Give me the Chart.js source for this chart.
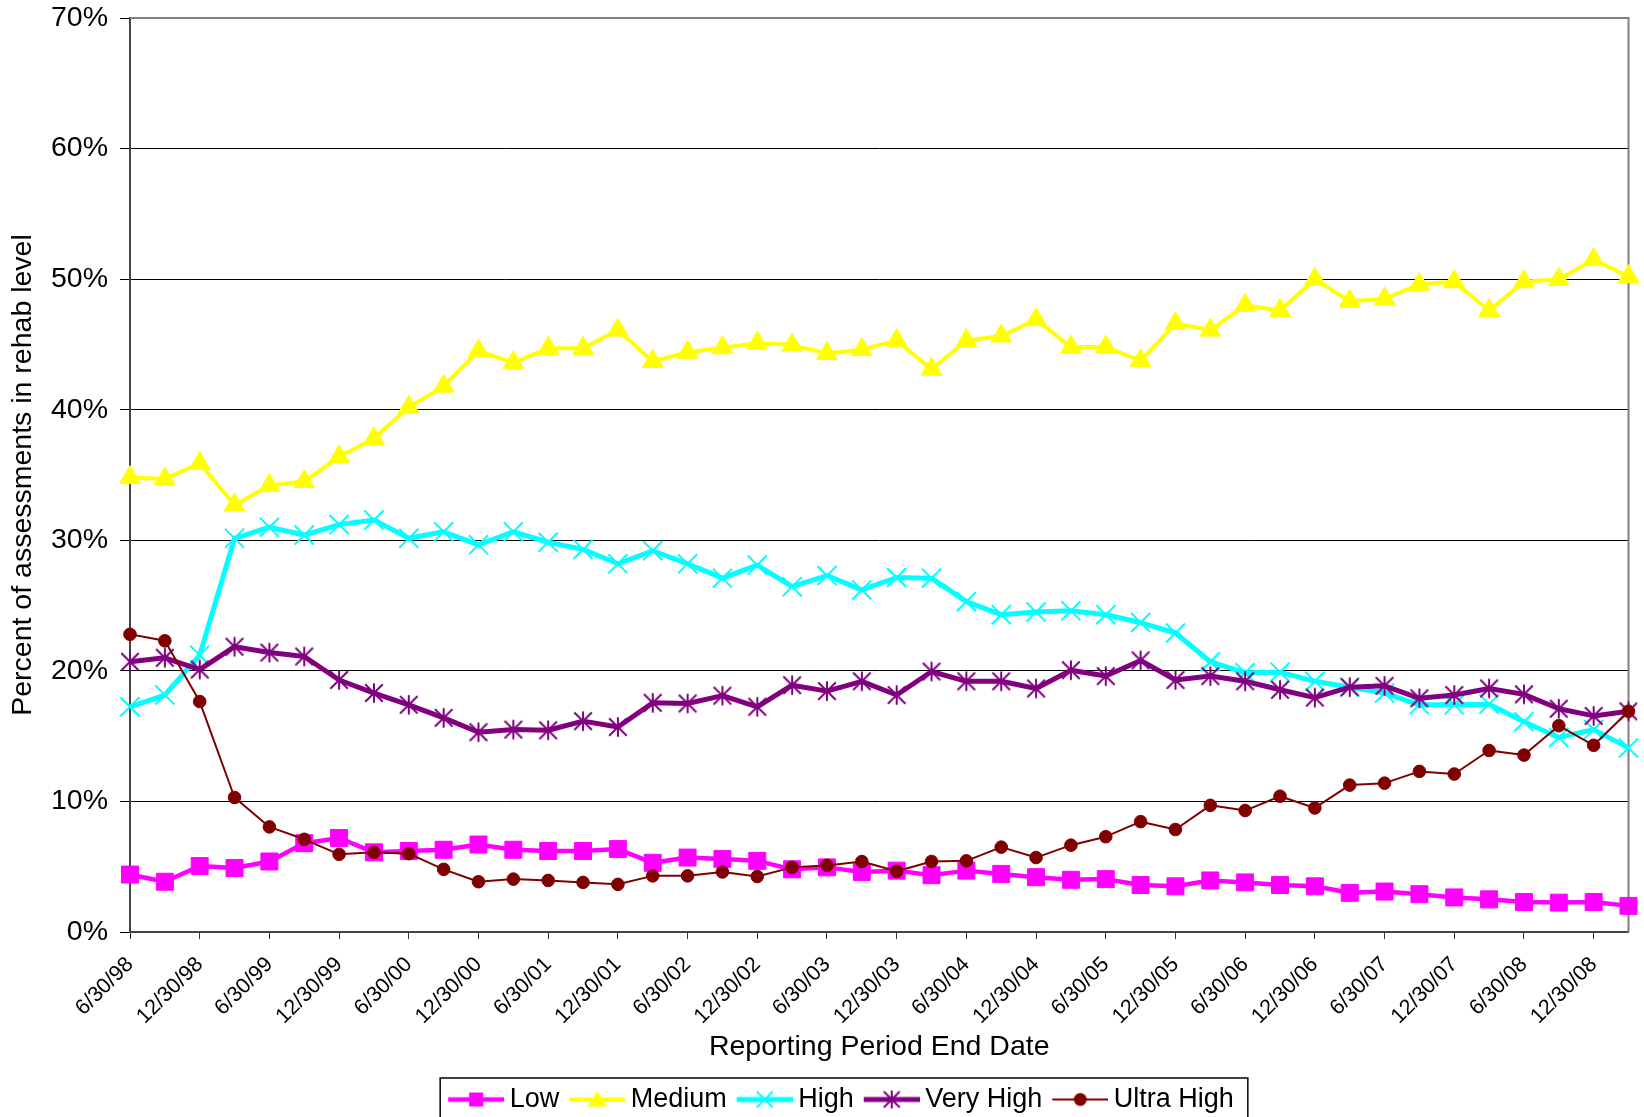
<!DOCTYPE html>
<html>
<head>
<meta charset="utf-8">
<script src="https://cdn.jsdelivr.net/npm/chart.js@4.4.1/dist/chart.umd.min.js"></script>
<style>
html,body{margin:0;padding:0;background:#fff;}
canvas{display:block;}
</style>
</head>
<body>
<canvas id="c" width="1644" height="1117"></canvas>
<script>
// ---- Data (percent of assessments per quarter) ----
const categories = ['6/30/98','9/30/98','12/30/98','3/31/99','6/30/99','9/30/99','12/30/99','3/31/00','6/30/00','9/30/00','12/30/00','3/31/01','6/30/01','9/30/01','12/30/01','3/31/02','6/30/02','9/30/02','12/30/02','3/31/03','6/30/03','9/30/03','12/30/03','3/31/04','6/30/04','9/30/04','12/30/04','3/31/05','6/30/05','9/30/05','12/30/05','3/31/06','6/30/06','9/30/06','12/30/06','3/31/07','6/30/07','9/30/07','12/30/07','3/31/08','6/30/08','9/30/08','12/30/08','3/31/09'];

const seriesNames = ['Low','Medium','High','Very High','Ultra High'];

const low = [4.4,3.85,5.05,4.9,5.4,6.8,7.2,6.1,6.2,6.3,6.7,6.3,6.2,6.2,6.35,5.3,5.7,5.6,5.45,4.8,4.95,4.6,4.7,4.35,4.7,4.45,4.2,4.0,4.05,3.6,3.5,3.95,3.8,3.6,3.5,3.0,3.1,2.9,2.65,2.5,2.3,2.25,2.3,2.0];
const medium = [34.8,34.7,35.9,32.7,34.2,34.5,36.4,37.8,40.2,41.8,44.5,43.6,44.7,44.7,46.1,43.7,44.4,44.75,45.1,44.95,44.3,44.6,45.3,43.1,45.3,45.65,46.9,44.8,44.8,43.75,46.6,46.1,48.0,47.6,50.0,48.3,48.5,49.6,49.8,47.6,49.8,50.0,51.5,50.2];
const high = [17.25,18.15,21.2,30.15,31.0,30.4,31.2,31.55,30.15,30.65,29.65,30.65,29.85,29.3,28.2,29.2,28.2,27.1,28.1,26.45,27.3,26.2,27.15,27.1,25.3,24.3,24.5,24.6,24.3,23.7,22.9,20.7,19.85,19.9,19.2,18.75,18.3,17.4,17.4,17.45,16.1,14.9,15.5,14.1];
const veryHigh = [20.7,21.0,20.1,21.85,21.4,21.1,19.3,18.3,17.4,16.4,15.3,15.5,15.45,16.15,15.7,17.55,17.5,18.1,17.25,18.9,18.45,19.2,18.15,19.95,19.2,19.2,18.65,20.05,19.6,20.8,19.3,19.6,19.2,18.55,17.95,18.75,18.85,17.9,18.15,18.65,18.2,17.1,16.55,16.9];
const ultraHigh = [22.8,22.3,17.65,10.3,8.05,7.1,5.95,6.1,6.0,4.8,3.85,4.05,3.95,3.8,3.65,4.3,4.3,4.6,4.25,4.95,5.1,5.4,4.65,5.4,5.45,6.5,5.7,6.65,7.3,8.45,7.85,9.7,9.3,10.4,9.5,11.25,11.4,12.3,12.1,13.9,13.55,15.8,14.3,16.9];

const yTicks = [0,10,20,30,40,50,60,70];

// ---- Styles ----
const colors = ['#FF00FF','#FFFF00','#00FFFF','#800080','#800000'];
const lineWidths = [4.5,4,5,5,2];

function mkCanvas(w,h,fn){const c=document.createElement('canvas');c.width=w;c.height=h;const g=c.getContext('2d');fn(g);return c;}

function drawStar(g,cx,cy,r,color){
  g.strokeStyle=color;g.lineWidth=2;g.lineCap='butt';
  g.beginPath();
  g.moveTo(cx-r,cy-r);g.lineTo(cx+r,cy+r);
  g.moveTo(cx+r,cy-r);g.lineTo(cx-r,cy+r);
  g.moveTo(cx,cy-r-1);g.lineTo(cx,cy+r+1);
  g.stroke();
}
const starImg = mkCanvas(22,22,g=>drawStar(g,11,11,8.8,colors[3]));

function legendIcon(i){
  return mkCanvas(64,30,g=>{
    const cy=15, cx=36;
    g.strokeStyle=colors[i];g.lineWidth=lineWidths[i];
    g.beginPath();g.moveTo(8,cy);g.lineTo(64,cy);g.stroke();
    g.fillStyle=colors[i];
    if(i===0){g.fillRect(cx-7,cy-7,14,14);}
    else if(i===1){g.beginPath();g.moveTo(cx,cy-8.5);g.lineTo(cx+10,cy+7);g.lineTo(cx-10,cy+7);g.closePath();g.fill();}
    else if(i===2){g.lineWidth=2;g.beginPath();g.moveTo(cx-8,cy-8);g.lineTo(cx+8,cy+8);g.moveTo(cx+8,cy-8);g.lineTo(cx-8,cy+8);g.stroke();}
    else if(i===3){drawStar(g,cx,cy,8,colors[3]);}
    else {g.beginPath();g.arc(cx,cy,6.5,0,Math.PI*2);g.fill();}
  });
}
const legendIcons = [0,1,2,3,4].map(legendIcon);

Chart.defaults.font.family = '"Liberation Sans", Arial, sans-serif';
Chart.defaults.color = '#000';

const decor = {
  id:'decor',
  afterLayout(chart){
    const l = chart.legend;
    if(l){ l.left += 21; l.right += 21; l.top += 6; l.bottom += 6; }
  },
  beforeDatasetsDraw(chart){
    const {ctx, chartArea:a} = chart;
    ctx.save();
    ctx.strokeStyle='#808080';ctx.lineWidth=2;
    ctx.beginPath();ctx.moveTo(a.left,a.top);ctx.lineTo(a.right,a.top);ctx.lineTo(a.right,a.bottom);ctx.stroke();
    ctx.restore();
  },
  afterDraw(chart){
    const l = chart.legend; if(!l || !l.legendHitBoxes || !l.legendHitBoxes.length) return;
    const hb = l.legendHitBoxes;
    const x0 = hb[0].left - 8;
    const last = hb[hb.length-1];
    const x1 = last.left + last.width + 14;
    const y0 = l.top + 2;
    const ctx = chart.ctx;
    ctx.save();
    ctx.strokeStyle='#000';ctx.lineWidth=1.5;
    ctx.strokeRect(x0, y0, x1-x0, chart.height + 10 - y0);
    ctx.restore();
  }
};

const seriesData = [low, medium, high, veryHigh, ultraHigh];
const pointStyles = ['rect','triangle','crossRot',starImg,'circle'];
const pointRadii = [12,12,13.5,9,6.3];
const pointBorders = [1,1,2,0,1];

const datasets = seriesNames.map((name,i)=>({
  label:name,
  data:seriesData[i],
  borderColor:colors[i],
  backgroundColor:colors[i],
  borderWidth:lineWidths[i],
  borderJoinStyle:'round',
  pointStyle:pointStyles[i],
  pointRadius:pointRadii[i],
  pointHoverRadius:pointRadii[i],
  pointBorderWidth:pointBorders[i],
  tension:0,
  fill:false,
  order:5-i
}));

new Chart(document.getElementById('c'), {
  type:'line',
  data:{labels:categories, datasets},
  plugins:[decor],
  options:{
    responsive:false,
    devicePixelRatio:1,
    animation:false,
    events:[],
    layout:{padding:{left:0,right:4,top:18,bottom:0}},
    plugins:{
      tooltip:{enabled:false},
      legend:{
        position:'bottom',
        labels:{
          usePointStyle:true,
          pointStyleWidth:48,
          padding:10,
          color:'#000',
          font:{size:27},
          sort:(a,b)=>a.datasetIndex-b.datasetIndex,
          generateLabels:(chart)=>{
            const items = Chart.defaults.plugins.legend.labels.generateLabels(chart);
            items.forEach(it=>{ it.pointStyle = legendIcons[it.datasetIndex]; });
            return items;
          }
        }
      }
    },
    scales:{
      x:{
        type:'category',
        offset:false,
        grid:{
          display:true,
          drawOnChartArea:false,
          tickLength:7,
          lineWidth:1,
          color:'#333',
          tickColor:(ctx)=> (ctx.index % 2 === 0 ? '#333' : 'rgba(0,0,0,0)')
        },
        border:{display:true,color:'#444',width:2},
        ticks:{
          autoSkip:false,
          minRotation:45,
          maxRotation:45,
          padding:13,
          color:'#000',
          font:{size:21.5},
          callback:function(v,i){ return i % 2 === 0 ? this.getLabelForValue(v) : ''; }
        },
        title:{display:true,text:'Reporting Period End Date',color:'#000',font:{size:28.5},padding:{top:4,bottom:6}},
        afterFit:(s)=>{ s.height = 138; s.paddingLeft = 0; s.paddingRight = 0; }
      },
      y:{
        min:0,max:70,
        afterBuildTicks:(s)=>{ s.ticks = yTicks.map(v=>({value:v})); },
        grid:{color:'#000',lineWidth:1,tickLength:10},
        border:{display:true,color:'#444',width:2},
        ticks:{padding:12,color:'#000',font:{size:28.5},callback:(v)=>v+'%'},
        title:{display:true,text:'Percent of assessments in rehab level',color:'#000',font:{size:28.5},padding:{top:6,bottom:4}},
        afterFit:(s)=>{ s.width = 130; s.paddingTop = 0; s.paddingBottom = 0; }
      }
    }
  }
});
</script>
</body>
</html>
